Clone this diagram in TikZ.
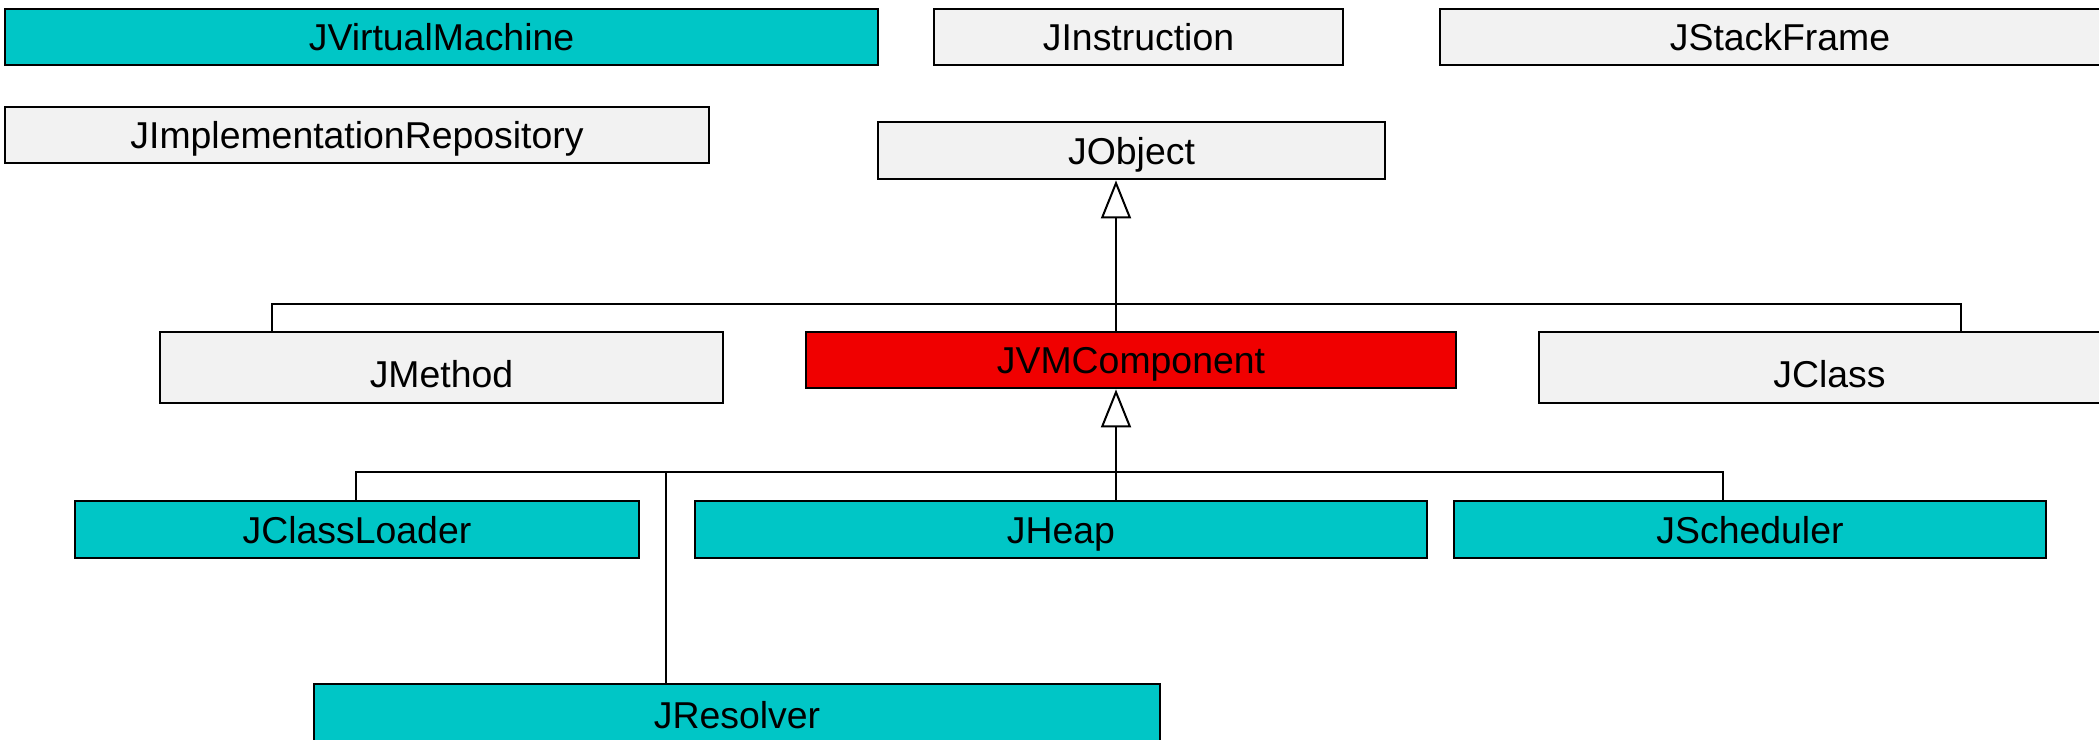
\documentclass[tikz,border=0pt]{standalone}
\usepackage{fontspec}
\setmainfont{Liberation Sans}
\usetikzlibrary{arrows.meta,calc}

\definecolor{clsgrey}{RGB}{242,242,242}
\definecolor{clscyan}{RGB}{0,198,198}
\definecolor{clsred}{RGB}{240,0,0}

\begin{document}
\begin{tikzpicture}[
  x=0.5pt, y=-0.5pt,
  font=\fontsize{18.7}{22}\selectfont,
  cls/.style={draw=black, line width=1.4pt, rectangle, inner sep=0pt,
    text height=13.5pt, text depth=0pt, anchor=center},
  low/.style={text height=20pt},
  grey/.style={cls, fill=clsgrey},
  cyan/.style={cls, fill=clscyan},
  red/.style={cls, fill=clsred},
  edge/.style={draw=black, line width=1pt},
  gen/.style={edge, -{Triangle[open, length=19pt, width=15pt, line width=1pt]}}
]
\useasboundingbox (0,0) rectangle (2099,739);

% top row
\node[cyan, minimum width=873*0.5pt, minimum height=56*0.5pt] (jvm) at (441.5,37) {JVirtualMachine};
\node[grey, minimum width=409*0.5pt, minimum height=56*0.5pt] (jinstr) at (1138.5,37) {JInstruction};
\node[grey, minimum width=680*0.5pt, minimum height=56*0.5pt] (jstack) at (1780,37) {JStackFrame};

% second row
\node[grey, minimum width=704*0.5pt, minimum height=56*0.5pt] (jrepo) at (357,135) {JImplementationRepository};
\node[grey, minimum width=507*0.5pt, minimum height=57*0.5pt] (jobject) at (1131.5,150.5) {JObject};

% subclasses of JObject
\node[grey, low, minimum width=563*0.5pt, minimum height=71*0.5pt] (jmethod) at (441.5,367.5) {JMethod};
\node[red, minimum width=650*0.5pt, minimum height=56*0.5pt] (jvmc) at (1131,360) {JVMComponent};
\node[grey, low, minimum width=581*0.5pt, minimum height=71*0.5pt] (jclass) at (1829.5,367.5) {JClass};

% subclasses of JVMComponent
\node[cyan, minimum width=564*0.5pt, minimum height=57*0.5pt] (jloader) at (357,529.5) {JClassLoader};
\node[cyan, minimum width=732*0.5pt, minimum height=57*0.5pt] (jheap) at (1061,529.5) {JHeap};
\node[cyan, minimum width=592*0.5pt, minimum height=57*0.5pt] (jsched) at (1750,529.5) {JScheduler};
\node[cyan, minimum width=846*0.5pt, minimum height=80*0.5pt, text depth=9.5pt] (jresolver) at (737,724) {JResolver};

% bus points of the two generalisation trees
\coordinate (spine) at (1116,0);
\coordinate (busA) at (1116,304);
\coordinate (dropMethod) at (272,304);
\coordinate (dropClass) at (1961,304);
\coordinate (busB) at (1116,472);
\coordinate (dropLoader) at (356,472);
\coordinate (dropResolver) at (666,472);
\coordinate (dropSched) at (1723,472);

% JMethod, JVMComponent, JClass -> JObject
\draw[gen] (jvmc.north -| spine) -- (jobject.south -| spine);
\draw[edge] (jmethod.north -| dropMethod) -- (dropMethod) -- (dropClass) -- (jclass.north -| dropClass);

% JClassLoader, JResolver, JHeap, JScheduler -> JVMComponent
\draw[gen] (jheap.north -| spine) -- (jvmc.south -| spine);
\draw[edge] (jloader.north -| dropLoader) -- (dropLoader) -- (dropSched) -- (jsched.north -| dropSched);
\draw[edge] (dropResolver) -- (jresolver.north -| dropResolver);
\end{tikzpicture}
\end{document}
